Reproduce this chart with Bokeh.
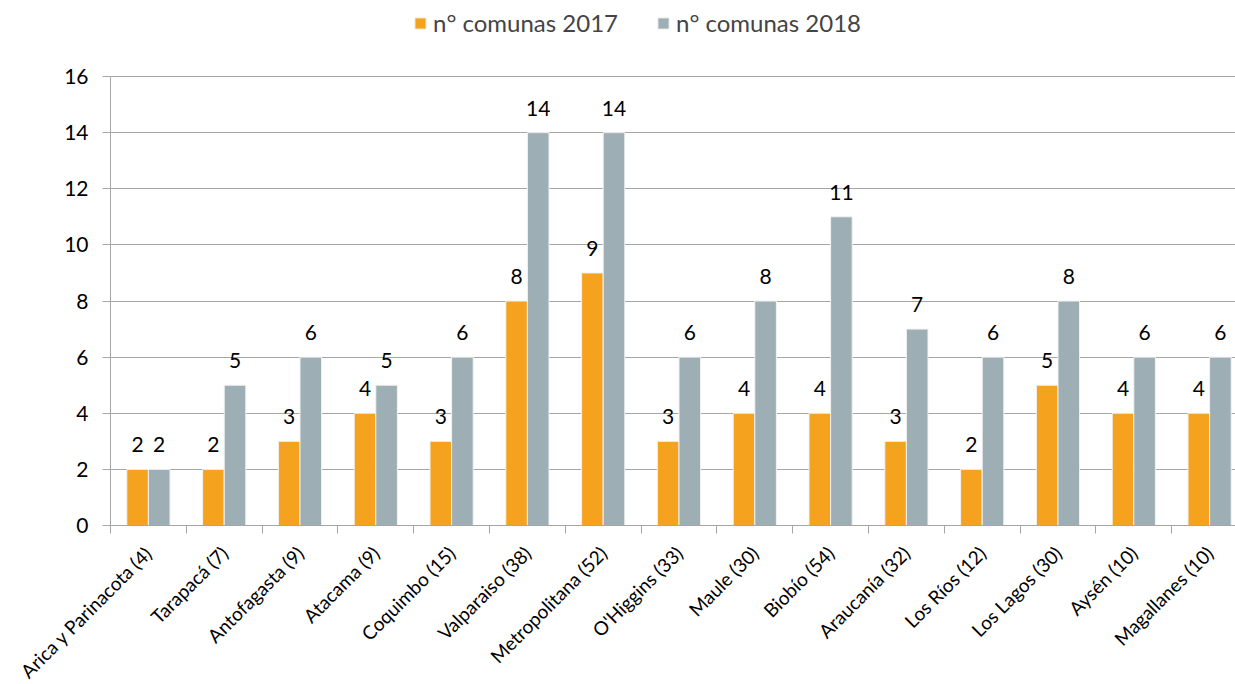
from math import pi
import numpy as np
from bokeh.plotting import figure
from bokeh.core.properties import value
from bokeh.models import (ColumnDataSource, Range1d, FixedTicker, LabelSet, Legend,
                          LegendItem)
from bokeh.embed import file_html
from bokeh.resources import INLINE

regions = ["Arica y Parinacota (4)", "Tarapacá (7)", "Antofagasta (9)", "Atacama (9)",
           "Coquimbo (15)", "Valparaiso (38)", "Metropolitana (52)", "O'Higgins (33)",
           "Maule (30)", "Biobío (54)", "Araucanía (32)", "Los Ríos (12)",
           "Los Lagos (30)", "Aysén (10)", "Magallanes (10)"]
comunas_2017 = [2, 2, 3, 4, 3, 8, 9, 3, 4, 4, 3, 2, 5, 4, 4]
comunas_2018 = [2, 5, 6, 5, 6, 14, 14, 6, 8, 11, 7, 6, 8, 6, 6]
series_names = ["n° comunas 2017", "n° comunas 2018"]
y_ticks = [0, 2, 4, 6, 8, 10, 12, 14, 16]

C17 = "#F5A31F"
C18 = "#9DAFB4"
FONT = "Lato"
GRID = "#A6A6A6"

# canvas geometry (pixels): the frame covers the whole canvas, axes are fixed inside it
W, H = 1235, 684
X0_PX, Y0_PX, Y16_PX, CAT_PX = 110, 525, 76, 75.8
ppu = (Y0_PX - Y16_PX) / 16.0
x_start, x_end = -X0_PX / CAT_PX, (W - X0_PX) / CAT_PX
y_start, y_end = -(H - Y0_PX) / ppu, 16 + Y16_PX / ppu

n = len(regions)
centers = np.arange(n) + 0.5
bw = 0.285
src = ColumnDataSource(dict(
    x17=centers - bw / 2, x18=centers + bw / 2,
    v17=comunas_2017, v18=comunas_2018,
    t17=[str(v) for v in comunas_2017], t18=[str(v) for v in comunas_2018],
))

p = figure(width=W, height=H, output_backend="svg", toolbar_location=None,
           x_range=Range1d(x_start, x_end), y_range=Range1d(y_start, y_end),
           min_border=0)
p.title.visible = False
p.outline_line_color = None
p.background_fill_color = "white"

r17 = p.vbar(x="x17", top="v17", width=bw, source=src, fill_color=C17,
             line_color="#F2F2F2", line_width=1)
r18 = p.vbar(x="x18", top="v18", width=bw, source=src, fill_color=C18,
             line_color="#F2F2F2", line_width=1)

for col, xcol in (("17", "x17"), ("18", "x18")):
    p.add_layout(LabelSet(x=xcol, y="v" + col, text="t" + col, source=src,
                          text_align="center", text_baseline="alphabetic",
                          y_offset=17, text_font=value(FONT), text_font_size=value("21px"),
                          text_color="black"))

# x axis: labels at centres, tick marks at category boundaries
xa = p.xaxis[0]
xa.fixed_location = 0
xa.bounds = (0, x_end)
xa.ticker = FixedTicker(ticks=list(centers), minor_ticks=list(range(n + 1)))
xa.major_label_overrides = {float(c): r for c, r in zip(centers, regions)}
xa.major_label_orientation = pi / 4
xa.major_tick_out = 0
xa.major_tick_in = 0
xa.minor_tick_out = 8
xa.minor_tick_in = 0
xa.minor_tick_line_color = GRID
xa.axis_line_color = GRID
xa.major_label_text_font = FONT
xa.major_label_text_font_size = "19px"
xa.major_label_text_color = "black"
xa.major_label_standoff = 16

ya = p.yaxis[0]
ya.fixed_location = 0
ya.bounds = (0, 16)
ya.ticker = FixedTicker(ticks=y_ticks)
ya.major_tick_out = 8
ya.major_tick_in = 0
ya.minor_tick_line_color = None
ya.major_tick_line_color = GRID
ya.axis_line_color = GRID
ya.major_label_text_font = FONT
ya.major_label_text_font_size = "21px"
ya.major_label_text_color = "black"
ya.major_label_standoff = 14

p.xgrid.grid_line_color = None
p.ygrid.grid_line_color = GRID
p.ygrid.grid_line_width = 1
p.ygrid.bounds = (0, 16)
p.ygrid.cross_bounds = (0, x_end)

legend = Legend(items=[LegendItem(label=series_names[0], renderers=[r17]),
                       LegendItem(label=series_names[1], renderers=[r18])],
                orientation="horizontal", location=(413, H - 37),
                label_text_font=FONT, label_text_font_size="24px",
                glyph_width=14, glyph_height=14, label_standoff=6, spacing=38,
                border_line_color=None, background_fill_alpha=0, padding=0, margin=0)
p.add_layout(legend, "center")

open("out.html", "w").write(file_html(p, INLINE))
